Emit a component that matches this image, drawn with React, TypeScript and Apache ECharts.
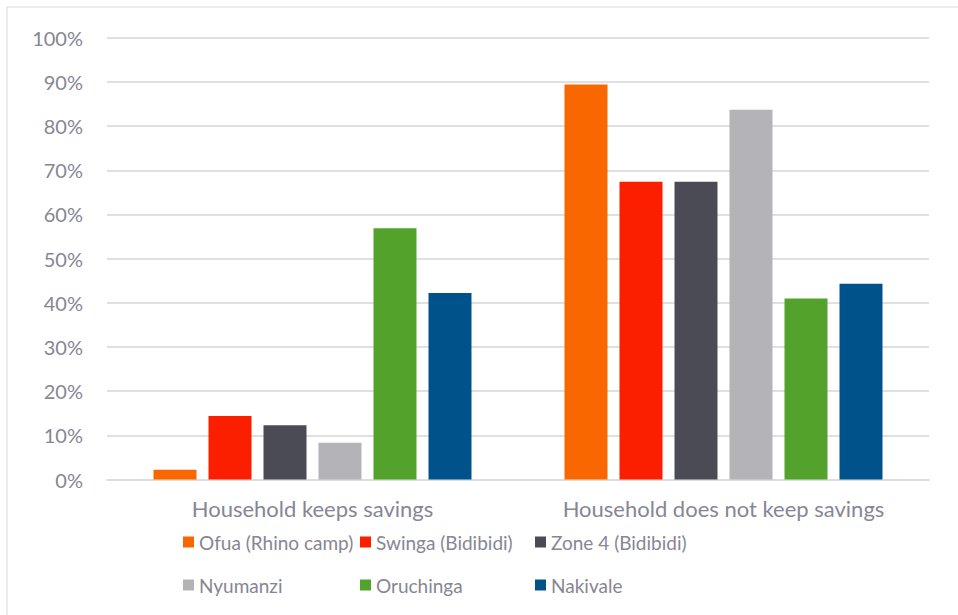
import React, { useEffect, useRef } from "react";
import * as echarts from "echarts";

const categories = ["Household keeps savings", "Household does not keep savings"];
const seriesNames = ["Ofua (Rhino camp)", "Swinga (Bidibidi)", "Zone 4 (Bidibidi)", "Nyumanzi", "Oruchinga", "Nakivale"];
const ofua = [2.2, 89.4];
const swinga = [14.4, 67.4];
const zone4 = [12.3, 67.4];
const nyumanzi = [8.3, 83.7];
const oruchinga = [56.9, 41.0];
const nakivale = [42.2, 44.3];
const seriesValues = [ofua, swinga, zone4, nyumanzi, oruchinga, nakivale];
const colors = ["#f96700", "#fb1f00", "#4b4b55", "#b4b3b8", "#52a22c", "#00538a"];
const yTicks = [0, 10, 20, 30, 40, 50, 60, 70, 80, 90, 100];

const FONT = "Lato";
const TXT = "#868694";

export default function App() {
  const ref = useRef<HTMLDivElement>(null);
  useEffect(() => {
    const chart = echarts.init(ref.current!, null, { renderer: "svg" });
    const legendCols = [183, 360, 535];
    const legends = legendCols.map((left, i) => ({
      orient: "vertical",
      left,
      top: 532,
      padding: 0,
      itemWidth: 11,
      itemHeight: 11,
      itemGap: 23,
      icon: "rect",
      textStyle: { color: TXT, fontSize: 19, fontFamily: FONT, lineHeight: 20 },
      data: [seriesNames[i], seriesNames[i + 3]],
    }));
    chart.setOption({
      animation: false,
      color: colors,
      graphic: [
        {
          type: "rect",
          shape: { x: 7, y: 7, width: 1000, height: 700 },
          style: { fill: "none", stroke: "#d9d9d9", lineWidth: 1 },
          silent: true,
        },
      ],
      legend: legends,
      grid: { left: 107, right: 29, top: 37.8, bottom: 135.5, containLabel: false },
      xAxis: {
        type: "category",
        data: categories,
        axisTick: { show: false },
        axisLine: { show: true, lineStyle: { color: "#dedede", width: 2 } },
        axisLabel: { color: TXT, fontSize: 22, fontFamily: FONT, margin: 18, interval: 0, hideOverlap: false },
      },
      yAxis: {
        type: "value",
        min: yTicks[0],
        max: yTicks[yTicks.length - 1],
        interval: 10,
        axisLine: { show: false },
        axisTick: { show: false },
        splitLine: { lineStyle: { color: "#e0e0e0", width: 2 } },
        axisLabel: { color: TXT, fontSize: 20, fontFamily: FONT, margin: 24, formatter: "{value}%" },
      },
      series: seriesNames.map((name, i) => ({
        name,
        type: "bar",
        data: seriesValues[i],
        barWidth: 43,
        barGap: "27.9%",
      })),
    });
    return () => chart.dispose();
  }, []);
  return <div ref={ref} style={{ position: "fixed", left: 0, top: 0, width: 958, height: 615, background: "#fff" }} />;
}
